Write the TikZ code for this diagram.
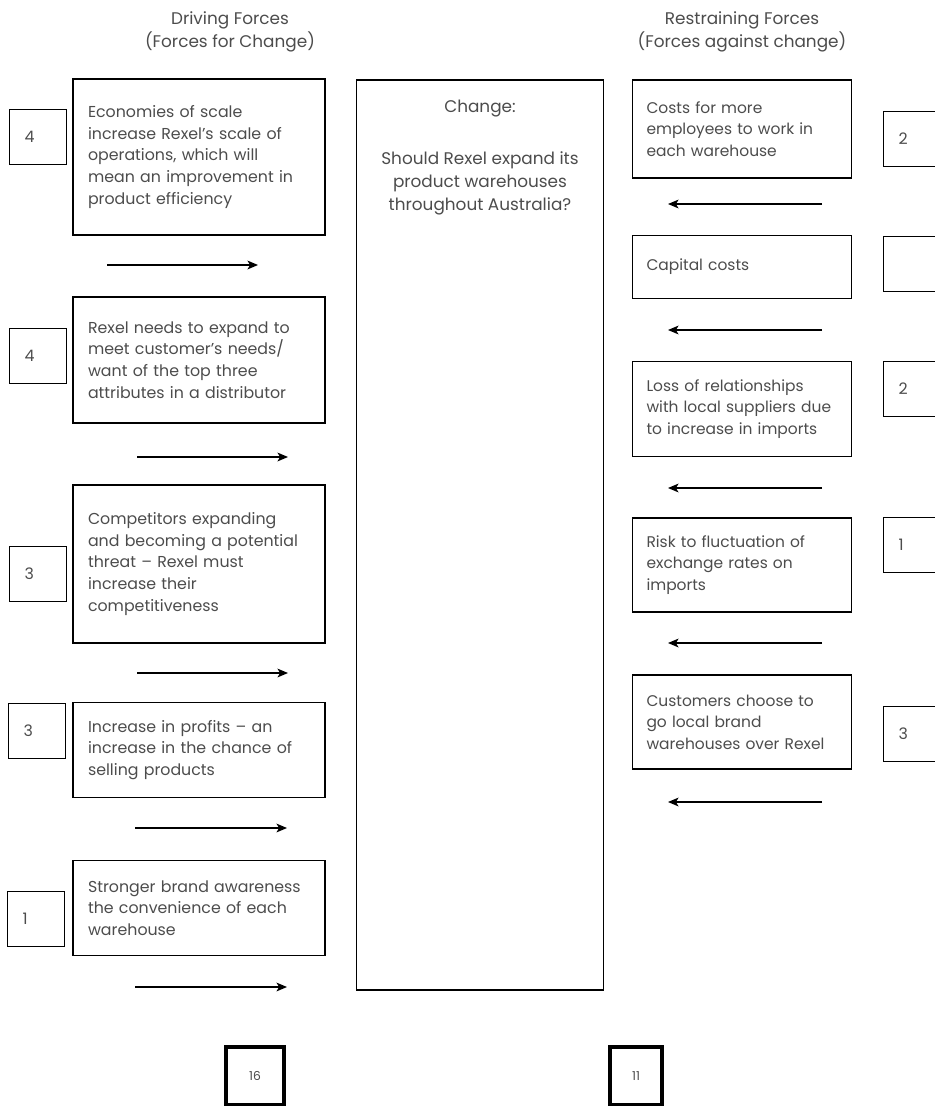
\documentclass[tikz,border=0pt]{standalone}
\usepackage{fontspec}
\setmainfont{Poppins}
\usepackage{tikz}
\usetikzlibrary{arrows.meta,positioning}
\tikzstyle{leftblock}=[rectangle, draw, line width=0.7pt, align=left, text=black!70, font=\fontsize{9}{12.3}\selectfont, text width=4.44cm, inner xsep=0.3cm]
\tikzstyle{rightblock}=[rectangle, draw, line width=0.7pt, align=left, text=black!70, font=\fontsize{8.8}{12.3}\selectfont, text width=3.82cm, inner xsep=0.28cm]
\tikzstyle{scoreblock}=[rectangle, draw, line width=0.7pt, align=left, text=black!70, font=\fontsize{9}{12.3}\selectfont, text width=0.54cm, inner xsep=0.3cm, minimum height=1.1cm]
\tikzstyle{totalblock}=[rectangle, draw, line width=2.5pt, text=black!70, font=\fontsize{7}{8}\selectfont, minimum height=1.16cm]
\tikzstyle{changeblock}=[rectangle, draw, line width=0.7pt, minimum width=4.94cm, minimum height=18.2cm]
\tikzstyle{heading}=[align=center, text=black!70, font=\fontsize{9.6}{13}\selectfont]
\tikzstyle{forcearrow}=[-{Stealth[length=6pt,width=5pt,inset=1.5pt]}, line width=0.7pt]

\begin{document}
\begin{tikzpicture}[x=0.02cm, y=-0.02cm]
\useasboundingbox (0,0) rectangle (934,1106);

\node[heading] (drv) at (230,32) {Driving Forces\\(Forces for Change)};
\node[heading] (rst) at (742,32) {Restraining Forces\\(Forces against change)};

% driving forces
\node[leftblock, minimum height=3.12cm] (l1) at (199,157) {Economies of scale\\increase Rexel's scale of\\operations, which will\\mean an improvement in\\product efficiency};
\node[leftblock, minimum height=2.52cm] (l2) at (199,360) {Rexel needs to expand to\\meet customer's needs/\\want of the top three\\attributes in a distributor};
\node[leftblock, minimum height=3.16cm] (l3) at (199,564) {Competitors expanding\\and becoming a potential\\threat -- Rexel must\\increase their\\competitiveness};
\node[leftblock, minimum height=1.9cm] (l4) at (199,750) {Increase in profits -- an\\increase in the chance of\\selling products};
\node[leftblock, minimum height=1.9cm] (l5) at (199,908) {Stronger brand awareness\\the convenience of each\\warehouse};

\node[scoreblock] (s1) at (38,137) {4};
\node[scoreblock] (s2) at (38,356) {4};
\node[scoreblock] (s3) at (38,574) {3};
\node[scoreblock] (s4) at (37,731) {3};
\node[scoreblock] (s5) at (36,919) {1};

% change
\node[changeblock] (chg) at (480,535) {};
\node[heading, below=0.28cm of chg.north] (chg-t) {Change:};
\node[heading, below=0.45cm of chg-t] (chg-q) {Should Rexel expand its\\product warehouses\\throughout Australia?};

% restraining forces
\node[rightblock, minimum height=1.96cm] (r1) at (742,129) {Costs for more\\employees to work in\\each warehouse};
\node[rightblock, minimum height=1.26cm] (r2) at (742,267) {Capital costs};
\node[rightblock, minimum height=1.9cm] (r3) at (742,409) {Loss of relationships\\with local suppliers due\\to increase in imports};
\node[rightblock, minimum height=1.88cm] (r4) at (742,565) {Risk to fluctuation of\\exchange rates on\\imports};
\node[rightblock, minimum height=1.88cm] (r5) at (742,722) {Customers choose to\\go local brand\\warehouses over Rexel};

\node[scoreblock] (t1) at (912,139) {2};
\node[scoreblock] (t2) at (912,264) {};
\node[scoreblock] (t3) at (912,389) {2};
\node[scoreblock] (t4) at (912,545) {1};
\node[scoreblock] (t5) at (912,734) {3};

% totals
\node[totalblock, minimum width=1.16cm] (sum-d) at (255,1076) {16};
\node[totalblock, minimum width=1.04cm] (sum-r) at (636,1076) {11};

\coordinate (da1) at (107,265); \coordinate (db1) at (258,265);
\coordinate (da2) at (137,457); \coordinate (db2) at (288,457);
\coordinate (da3) at (137,673); \coordinate (db3) at (288,673);
\coordinate (da4) at (135,828); \coordinate (db4) at (287,828);
\coordinate (da5) at (135,987); \coordinate (db5) at (287,987);
\coordinate (ra1) at (822,204); \coordinate (rb1) at (668,204);
\coordinate (ra2) at (822,330); \coordinate (rb2) at (668,330);
\coordinate (ra3) at (822,488); \coordinate (rb3) at (668,488);
\coordinate (ra4) at (822,643); \coordinate (rb4) at (668,643);
\coordinate (ra5) at (822,802); \coordinate (rb5) at (668,802);

\draw[forcearrow] (da1) -- (db1);
\draw[forcearrow] (da2) -- (db2);
\draw[forcearrow] (da3) -- (db3);
\draw[forcearrow] (da4) -- (db4);
\draw[forcearrow] (da5) -- (db5);
\draw[forcearrow] (ra1) -- (rb1);
\draw[forcearrow] (ra2) -- (rb2);
\draw[forcearrow] (ra3) -- (rb3);
\draw[forcearrow] (ra4) -- (rb4);
\draw[forcearrow] (ra5) -- (rb5);

\end{tikzpicture}
\end{document}
